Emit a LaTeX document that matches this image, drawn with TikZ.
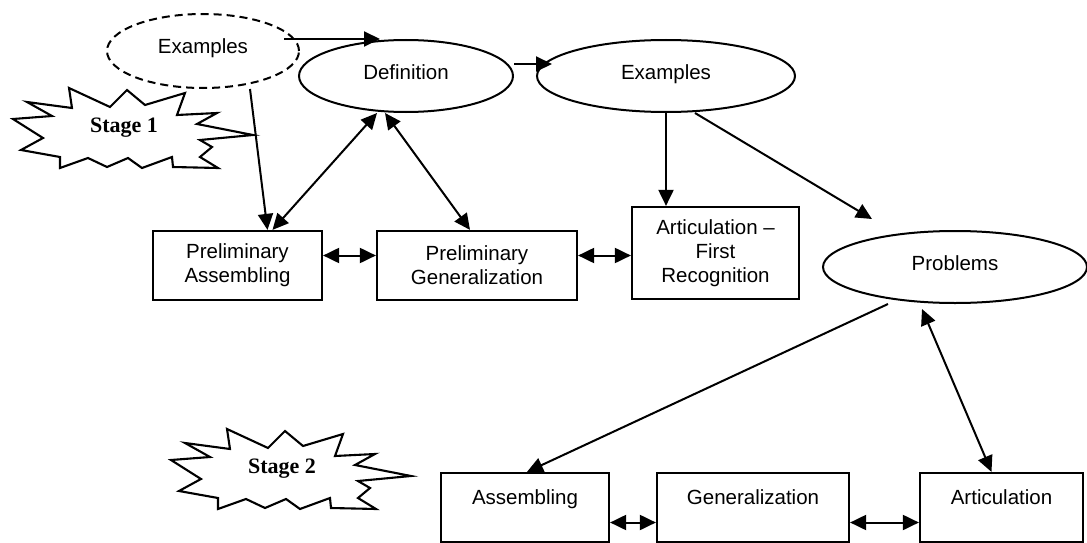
\documentclass[tikz,border=0pt]{standalone}
\usepackage{fontspec}
\setmainfont{Liberation Serif}
\setsansfont{Liberation Sans}
\usetikzlibrary{arrows.meta,shapes.geometric}
\begin{document}
\begin{tikzpicture}[x=1pt,y=-1pt,
  every node/.style={font=\sffamily\fontsize{20.5}{24}\selectfont},
  ell/.style={draw, ellipse, line width=2pt, inner sep=0pt, text height=15pt, text depth=9pt},
  dashell/.style={ell, dash pattern=on 8pt off 5pt},
  box/.style={draw, rectangle, line width=2.2pt, align=center, inner sep=0pt},
  topbox/.style={box, text height=15pt, text depth=21pt},
  arr/.style={line width=2pt, -{Triangle[length=16pt,width=15pt]}},
  darr/.style={line width=2pt, {Triangle[length=16pt,width=15pt]}-{Triangle[length=16pt,width=15pt]}},
  starline/.style={draw, line width=2.1pt, line join=miter},
  stagetext/.style={font=\rmfamily\bfseries\fontsize{22}{24}\selectfont},
  burst/.pic={\draw[starline] (13,119) -- (52,116) -- (27,102) -- (72,108) -- (69,88) -- (110,107) -- (127,90) -- (145,105) -- (185,93) -- (177,115) -- (217,113) -- (197,124) -- (253,135) -- (200,140) -- (212,147) -- (200,157) -- (218,168) -- (173,167) -- (172,157) -- (142,168) -- (128,158) -- (107,167) -- (88,158) -- (60,168) -- (60,157) -- (21,150) -- (43,138) -- cycle;}
]
\useasboundingbox (0,0) rectangle (1087,543);

% stage bursts
\pic at (0,0) {burst};
\node[stagetext] (s1) at (124,128) {Stage 1};
\pic at (158,341) {burst};
\node[stagetext] (s2) at (282,469) {Stage 2};

% ellipses
\node[dashell, minimum width=192pt, minimum height=74pt] (ex1) at (203,51) {Examples};
\node[ell, minimum width=214pt, minimum height=72pt] (def) at (406,76) {Definition};
\node[ell, minimum width=258pt, minimum height=72pt] (ex2) at (666,76) {Examples};
\node[ell, minimum width=264pt, minimum height=72pt] (pr) at (955,267) {Problems};

% boxes
\node[box, minimum width=169pt, minimum height=69pt] (pa) at (237.5,265.5) {Preliminary\\Assembling};
\node[box, minimum width=200pt, minimum height=69pt] (pg) at (477,265.5) {Preliminary\\Generalization};
\node[box, minimum width=167pt, minimum height=92pt] (af) at (715.5,253) {Articulation –\\First\\Recognition};
\node[topbox, minimum width=168pt, minimum height=69pt] (asm) at (525,507.5) {Assembling};
\node[topbox, minimum width=192pt, minimum height=69pt] (gen) at (753,507.5) {Generalization};
\node[topbox, minimum width=163pt, minimum height=69pt] (art) at (1001.5,507.5) {Articulation};

\coordinate (prtip) at ([xshift=-83pt,yshift=11pt]pr.north);

% connectors
\draw[arr] ([xshift=-16pt]ex1.east |- def.north) -- ([xshift=-26pt]def.north);
\draw[arr] ([yshift=12pt]def.east) -- ([yshift=12pt,xshift=16pt]ex2.west);
\draw[arr] ([xshift=47pt]ex1.south) -- ([xshift=30pt]pa.north);
\draw[darr] ([xshift=-29pt]def.south) -- ([xshift=35pt]pa.north);
\draw[darr] ([xshift=-21pt]def.south) -- ([xshift=-7pt]pg.north);
\draw[arr] (ex2.south) -- (ex2.south |- af.north);
\draw[arr] ([xshift=29pt]ex2.south) -- (prtip);
\draw[darr] ([yshift=10pt]pa.east) -- ([yshift=10pt]pg.west);
\draw[darr] ([yshift=10pt]pg.east) -- ([yshift=10pt]pg.east -| af.west);
\draw[arr] ([xshift=-67pt]pr.south) -- ([xshift=2pt]asm.north);
\draw[darr] ([xshift=-33pt,yshift=-5pt]pr.south) -- ([xshift=-10pt]art.north);
\draw[darr] ([yshift=-15pt]asm.east) -- ([yshift=-15pt]gen.west);
\draw[darr] ([yshift=-15pt]gen.east) -- ([yshift=-15pt]art.west);
\end{tikzpicture}
\end{document}
